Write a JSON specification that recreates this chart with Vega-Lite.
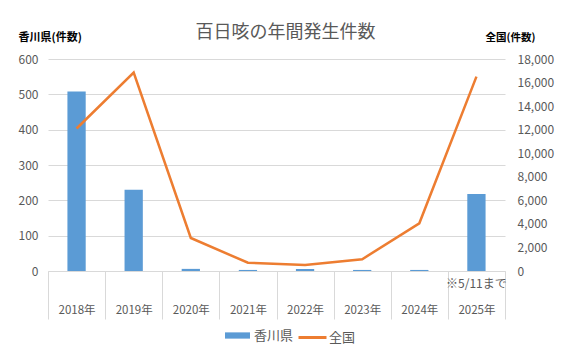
{
  "$schema": "https://vega.github.io/schema/vega-lite/v6.json",
  "width": 457,
  "height": 212,
  "autosize": {"type": "none"},
  "padding": {"left": 48, "top": 59, "right": 70, "bottom": 91},
  "background": "white",
  "config": {"font": "Noto Sans CJK JP", "view": {"stroke": null}},
  "title": {"text": "百日咳の年間発生件数", "fontSize": 18, "fontWeight": "normal", "color": "#595959", "anchor": "middle", "frame": "group", "dx": 9, "offset": -11},
  "data": {"values": [
    {"year": "2018年", "kagawa": 508, "zenkoku": 12100},
    {"year": "2019年", "kagawa": 230, "zenkoku": 16850},
    {"year": "2020年", "kagawa": 6, "zenkoku": 2800},
    {"year": "2021年", "kagawa": 3, "zenkoku": 700},
    {"year": "2022年", "kagawa": 6, "zenkoku": 500},
    {"year": "2023年", "kagawa": 3, "zenkoku": 1000},
    {"year": "2024年", "kagawa": 3, "zenkoku": 4050},
    {"year": "2025年", "kagawa": 218, "zenkoku": 16500}
  ]},
  "layer": [
    {
      "layer": [
        {
          "mark": {"type": "bar", "width": {"band": 0.32}},
          "encoding": {
            "x": {"field": "year", "type": "nominal", "sort": null,
              "scale": {"paddingInner": 0, "paddingOuter": 0},
              "axis": {"title": null, "labelAngle": 0, "tickBand": "extent", "tickSize": 48, "tickColor": "#D9D9D9", "domainColor": "#D9D9D9", "labelPadding": -15, "labelBaseline": "top", "labelColor": "#595959", "labelFontSize": 11.5}},
            "y": {"field": "kagawa", "type": "quantitative", "scale": {"domain": [0, 600]},
              "axis": {"values": [0, 100, 200, 300, 400, 500, 600], "labelOverlap": false, "ticks": false, "domain": false, "gridColor": "#D9D9D9", "labelPadding": 10, "labelColor": "#595959", "labelFontSize": 12,
                "title": "香川県(件数)", "titleAngle": 0, "titleAlign": "left", "titleBaseline": "alphabetic", "titleX": -30, "titleY": -19, "titleFontSize": 11, "titleFontWeight": "bold", "titleColor": "#000000"}},
            "fill": {"datum": "香川県", "scale": {"range": ["#5B9BD5"]},
              "legend": {"title": null, "orient": "none", "legendX": 176, "legendY": 263, "symbolType": "M-1,-0.25H1V0.25H-1Z", "symbolSize": 625, "labelFontSize": 13, "labelColor": "#595959", "labelOffset": 3}}
          }
        },
        {
          "data": {"values": [{"year": "2025年", "note": "※5/11まで"}]},
          "mark": {"type": "text", "dy": 13, "fontSize": 12, "color": "#595959"},
          "encoding": {
            "x": {"field": "year", "type": "nominal", "sort": null},
            "y": {"datum": 0, "type": "quantitative",
              "axis": {"values": [0, 100, 200, 300, 400, 500, 600], "labelOverlap": false, "ticks": false, "domain": false, "gridColor": "#D9D9D9", "labelPadding": 10, "labelColor": "#595959", "labelFontSize": 12,
                "title": "香川県(件数)", "titleAngle": 0, "titleAlign": "left", "titleBaseline": "alphabetic", "titleX": -30, "titleY": -19, "titleFontSize": 11, "titleFontWeight": "bold", "titleColor": "#000000"}},
            "text": {"field": "note"}
          }
        }
      ]
    },
    {
      "mark": {"type": "line", "strokeWidth": 2.5},
      "encoding": {
        "x": {"field": "year", "type": "nominal", "sort": null},
        "y": {"field": "zenkoku", "type": "quantitative", "scale": {"domain": [0, 18000]},
          "axis": {"orient": "right", "values": [0, 2000, 4000, 6000, 8000, 10000, 12000, 14000, 16000, 18000], "format": ",.0f", "labelOverlap": false, "grid": false, "ticks": false, "domain": false, "labelPadding": 12, "labelColor": "#595959", "labelFontSize": 12,
            "title": "全国(件数)", "titleAngle": 0, "titleAlign": "left", "titleBaseline": "alphabetic", "titleX": -20, "titleY": -19, "titleFontSize": 10.5, "titleFontWeight": "bold", "titleColor": "#000000"}},
        "stroke": {"datum": "全国", "scale": {"range": ["#ED7D31"]},
          "legend": {"title": null, "orient": "none", "legendX": 249, "legendY": 263, "symbolType": "stroke", "symbolSize": 784, "symbolStrokeWidth": 3, "labelFontSize": 13, "labelColor": "#595959", "labelOffset": 1}}
      }
    }
  ],
  "resolve": {"scale": {"y": "independent"}}
}
